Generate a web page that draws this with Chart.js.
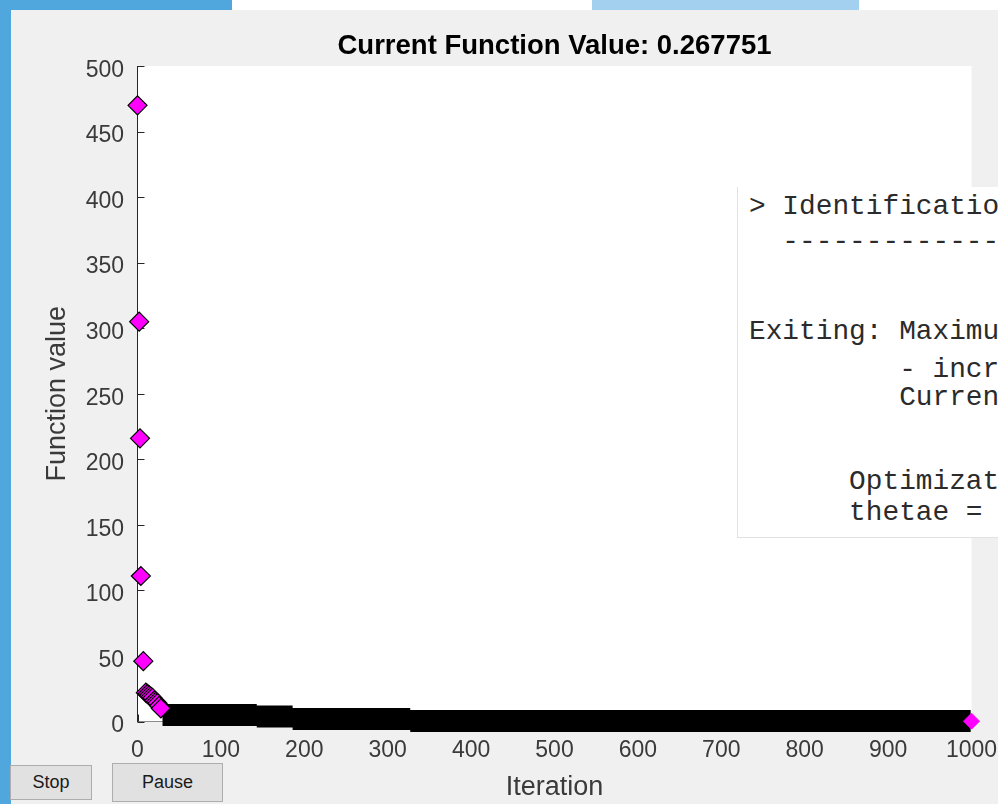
<!DOCTYPE html>
<html>
<head>
<meta charset="utf-8">
<script src="https://cdn.jsdelivr.net/npm/chart.js@4.4.1/dist/chart.umd.min.js"></script>
<style>
  html, body { margin: 0; padding: 0; width: 998px; height: 804px; overflow: hidden; background: #ffffff; }
  .strip { position: absolute; }
  #panel { position: absolute; left: 11px; top: 10px; right: 0; bottom: 0; background: #f0f0f0; }
  #chartBox { position: absolute; left: 0; top: 0; width: 998px; height: 804px; }
  #console { position: absolute; left: 737px; top: 187px; width: 261px; height: 350px; background: #ffffff;
             border-left: 1px solid #e2e2e2; border-bottom: 1px solid #e2e2e2; overflow: hidden; z-index: 5; }
  #console div { position: absolute; left: 11px; white-space: pre; font-family: 'Liberation Mono', 'Courier New', monospace;
                 font-size: 27.8px; line-height: 28px; color: #2b2b2b; }
  .btn { position: absolute; z-index: 5; background: #e1e1e1; border: 1px solid #adadad; box-sizing: border-box;
         font-family: 'Liberation Sans', Arial, sans-serif; font-size: 18px; color: #1a1a1a;
         display: flex; align-items: center; justify-content: center; }
</style>
</head>
<body>
<div class="strip" style="left:0;top:0;width:232px;height:10px;background:#4fa7dd;"></div>
<div class="strip" style="left:592px;top:0;width:267px;height:10px;background:#a2d0ee;"></div>
<div class="strip" style="left:0;top:0;width:11px;height:804px;background:#4fa7dd;"></div>
<div id="panel"></div>
<div id="chartBox"><canvas id="fvalChart" width="998" height="804"></canvas></div>

<div id="console">
  <div style="top:6px;">&gt; Identification</div>
  <div style="top:41px;">  ----------------</div>
  <div style="top:131px;">Exiting: Maximum</div>
  <div style="top:169px;">         - incre</div>
  <div style="top:197px;">         Current</div>
  <div style="top:281px;">      Optimizatio</div>
  <div style="top:312px;">      thetae = </div>
</div>

<div class="btn" style="left:10px;top:765px;width:82px;height:35px;">Stop</div>
<div class="btn" style="left:112px;top:763px;width:111px;height:39px;">Pause</div>

<script>
// Values
const chartTitle = 'Current Function Value: 0.267751';
const xTickValues = [0, 100, 200, 300, 400, 500, 600, 700, 800, 900, 1000];
const yTickValues = [0, 50, 100, 150, 200, 250, 300, 350, 400, 450, 500];

// early iterations, each visible as its own diamond
const markerIters  = [0, 2, 3, 4, 7, 10, 12, 14, 16, 18, 20, 22, 24, 26, 28];
const markerValues = [470, 305, 216, 111, 46, 22, 21, 20, 19, 18, 16, 15, 14, 12, 10];

// later iterations are packed so tight they read as a solid black band:
// one plateau per [start, end] range
const bandStart  = [30, 143, 186, 327];
const bandEnd    = [143, 186, 327, 999];
const bandValues = [5.0, 3.8, 1.9, 0.3];

// last iteration
const finalIters  = [1000];
const finalValues = [0.267751];

const toPoints = (xs, ys) => xs.map((x, i) => ({ x: x, y: ys[i] }));

// each plateau as its own piece, separated by a gap
const bandPoints = [];
bandStart.forEach((s, i) => {
    bandPoints.push({ x: s, y: bandValues[i] });
    bandPoints.push({ x: bandEnd[i], y: bandValues[i] });
    bandPoints.push({ x: bandEnd[i], y: null });
});

// white plot background + MATLAB style inward ticks
const axesDecor = {
    id: 'axesDecor',
    beforeDraw(chart) {
        const { ctx, chartArea } = chart;
        ctx.save();
        ctx.fillStyle = '#ffffff';
        ctx.fillRect(chartArea.left, chartArea.top, chartArea.right - chartArea.left, chartArea.bottom - chartArea.top);
        ctx.restore();
    },
    beforeDatasetsDraw(chart) {
        const { ctx, chartArea, scales } = chart;
        ctx.save();
        ctx.strokeStyle = '#262626';
        ctx.lineWidth = 1;
        ctx.beginPath();
        scales.y.ticks.forEach(t => {
            const py = Math.round(scales.y.getPixelForValue(t.value)) + 0.5;
            ctx.moveTo(chartArea.left, py);
            ctx.lineTo(chartArea.left + 7, py);
        });
        scales.x.ticks.forEach(t => {
            const px = Math.round(scales.x.getPixelForValue(t.value)) + 0.5;
            ctx.moveTo(px, chartArea.bottom);
            ctx.lineTo(px, chartArea.bottom - 7);
        });
        ctx.stroke();
        ctx.restore();
    }
};

Chart.defaults.font.family = "'Liberation Sans', Arial, sans-serif";

const canvas = document.getElementById('fvalChart');
const chart = new Chart(canvas, {
    type: 'scatter',
    data: {
        datasets: [
            {
                label: 'band',
                data: bandPoints,
                showLine: true,
                spanGaps: false,
                borderColor: '#000000',
                borderWidth: 22,
                borderCapStyle: 'butt',
                pointRadius: 0,
                clip: false,
                order: 3
            },
            {
                label: 'early',
                data: toPoints(markerIters, markerValues),
                pointStyle: 'rectRot',
                pointRadius: 9.5,
                backgroundColor: '#ff00ff',
                borderColor: '#000000',
                borderWidth: 1.2,
                clip: false,
                order: 2
            },
            {
                label: 'final',
                data: toPoints(finalIters, finalValues),
                pointStyle: 'rectRot',
                pointRadius: 8,
                backgroundColor: '#ff00ff',
                borderColor: '#ff00ff',
                borderWidth: 1,
                clip: false,
                order: 1
            }
        ]
    },
    options: {
        responsive: false,
        animation: false,
        layout: { padding: { top: 10, left: 0, right: 26.5, bottom: 0 } },
        plugins: {
            legend: { display: false },
            tooltip: { enabled: false },
            title: {
                display: true,
                text: chartTitle,
                fullSize: false,
                color: '#000000',
                font: { size: 27.5, weight: 'bold' },
                padding: { top: 19.5, bottom: 3.5 }
            }
        },
        scales: {
            x: {
                type: 'linear',
                min: 0,
                max: 1000,
                afterBuildTicks: s => { s.ticks = xTickValues.map(v => ({ value: v })); },
                afterFit: s => { s.height = 82.5; s.paddingLeft = 0; s.paddingRight = 0; },
                grid: { display: false, drawTicks: false },
                border: { display: true, color: '#8c8c8c', width: 1 },
                ticks: { color: '#3a3a3a', font: { size: 23 }, padding: 15.7, maxRotation: 0, autoSkip: false,
                         callback: v => String(v) },
                title: { display: true, text: 'Iteration', color: '#3a3a3a', font: { size: 27 }, padding: { top: 0, bottom: 0 } }
            },
            y: {
                type: 'linear',
                min: 0,
                max: 500,
                afterBuildTicks: s => { s.ticks = yTickValues.map(v => ({ value: v })); },
                afterFit: s => { s.width = 137.5; s.paddingTop = 0; s.paddingBottom = 0; },
                grid: { display: false, drawTicks: false },
                border: { display: true, color: '#262626', width: 1 },
                ticks: { color: '#3a3a3a', font: { size: 23 }, padding: 13.5, labelOffset: 4.5, autoSkip: false,
                         callback: v => String(v) },
                title: { display: true, text: 'Function value', color: '#3a3a3a', font: { size: 27 }, padding: { top: 41.3, bottom: 0 } }
            }
        }
    },
    plugins: [axesDecor]
});

console.log('chart drawn', chart.chartArea);
</script>
</body>
</html>
